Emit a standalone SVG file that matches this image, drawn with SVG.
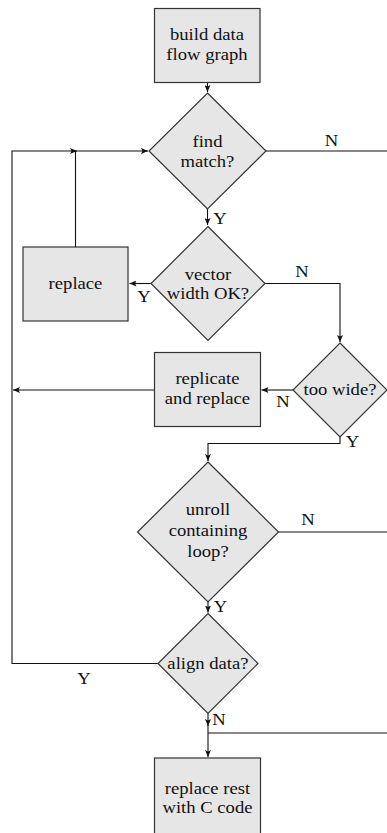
<svg xmlns="http://www.w3.org/2000/svg" width="387" height="833" viewBox="0 0 387 833">
<style>
.node{fill:#e6e6e6;stroke:#333;stroke-width:1.2}
.t{font-family:"Liberation Serif","Times New Roman",serif;font-size:16.5px;fill:#111;text-anchor:middle;transform-box:fill-box;transform-origin:center;transform:scaleX(1.13)}
.c{fill:none;stroke:#111;stroke-width:1.1}
</style>
<defs>
<marker id="ah" markerUnits="userSpaceOnUse" markerWidth="8" markerHeight="6" refX="7" refY="3" orient="auto">
<path d="M0,0 L7,3 L0,6 L1.5,3 z" fill="#111"/>
</marker>
</defs>
<rect width="387" height="833" fill="#fff"/>
<g id="connectors">
<path class="c" d="M207.5,82.5 V92" marker-end="url(#ah)"/>
<path class="c" d="M266,151 H387"/>
<path class="c" d="M158,663.5 H12 V151 H77" marker-end="url(#ah)"/>
<path class="c" d="M76,151 H148" marker-end="url(#ah)"/>
<path class="c" d="M75.5,247 V151"/>
<path class="c" d="M207.5,209 V225" marker-end="url(#ah)"/>
<path class="c" d="M151,283.5 H129.5" marker-end="url(#ah)"/>
<path class="c" d="M265,283.5 H340 V342" marker-end="url(#ah)"/>
<path class="c" d="M293,390 H261.5" marker-end="url(#ah)"/>
<path class="c" d="M154.5,390 H13" marker-end="url(#ah)"/>
<path class="c" d="M340,437 V443.5 H208 V461" marker-end="url(#ah)"/>
<path class="c" d="M278.5,532 H387"/>
<path class="c" d="M208,602 V612.5" marker-end="url(#ah)"/>
<path class="c" d="M208,713.5 V726" marker-end="url(#ah)"/>
<path class="c" d="M208,725 V757" marker-end="url(#ah)"/>
<path class="c" d="M208,733 H387"/>
</g>
<g id="build">
<rect class="node" x="154.5" y="8.5" width="105.5" height="74"/>
<text class="t" x="207" y="40">build data</text>
<text class="t" x="207" y="60">flow graph</text>
</g>
<g id="findmatch">
<polygon class="node" points="207.5,93 266,151 207.5,209 149,151"/>
<text class="t" x="207.5" y="147">find</text>
<text class="t" x="207.5" y="167">match?</text>
</g>
<g id="vectorwidth">
<polygon class="node" points="208,226.5 265,283.5 208,340.5 151,283.5"/>
<text class="t" x="208" y="280">vector</text>
<text class="t" x="208" y="299">width OK?</text>
</g>
<g id="replace">
<rect class="node" x="23" y="247" width="105" height="74"/>
<text class="t" x="75.5" y="289.5">replace</text>
</g>
<g id="toowide">
<polygon class="node" points="340,343 387,390 340,437 293,390"/>
<text class="t" x="340" y="395.5">too wide?</text>
</g>
<g id="replicate">
<rect class="node" x="154.5" y="352.5" width="106" height="74"/>
<text class="t" x="207.5" y="384">replicate</text>
<text class="t" x="207.5" y="404">and replace</text>
</g>
<g id="unroll">
<polygon class="node" points="208,462 278.5,532 208,602 137.5,532"/>
<text class="t" x="208" y="515.5">unroll</text>
<text class="t" x="208" y="536.5">containing</text>
<text class="t" x="208" y="557">loop?</text>
</g>
<g id="align">
<polygon class="node" points="208,613.5 258,663.5 208,713.5 158,663.5"/>
<text class="t" x="208" y="669">align data?</text>
</g>
<g id="replacerest">
<rect class="node" x="154.5" y="758" width="106" height="82"/>
<text class="t" x="207.5" y="794">replace rest</text>
<text class="t" x="207.5" y="813.5">with C code</text>
</g>
<g id="labels">
<text class="t" x="331.5" y="146">N</text>
<text class="t" x="220" y="224">Y</text>
<text class="t" x="302" y="277">N</text>
<text class="t" x="144" y="302.5">Y</text>
<text class="t" x="283" y="407">N</text>
<text class="t" x="352.5" y="447">Y</text>
<text class="t" x="308" y="525.5">N</text>
<text class="t" x="220.5" y="612">Y</text>
<text class="t" x="84" y="684">Y</text>
<text class="t" x="219" y="725.5">N</text>
</g>
</svg>
